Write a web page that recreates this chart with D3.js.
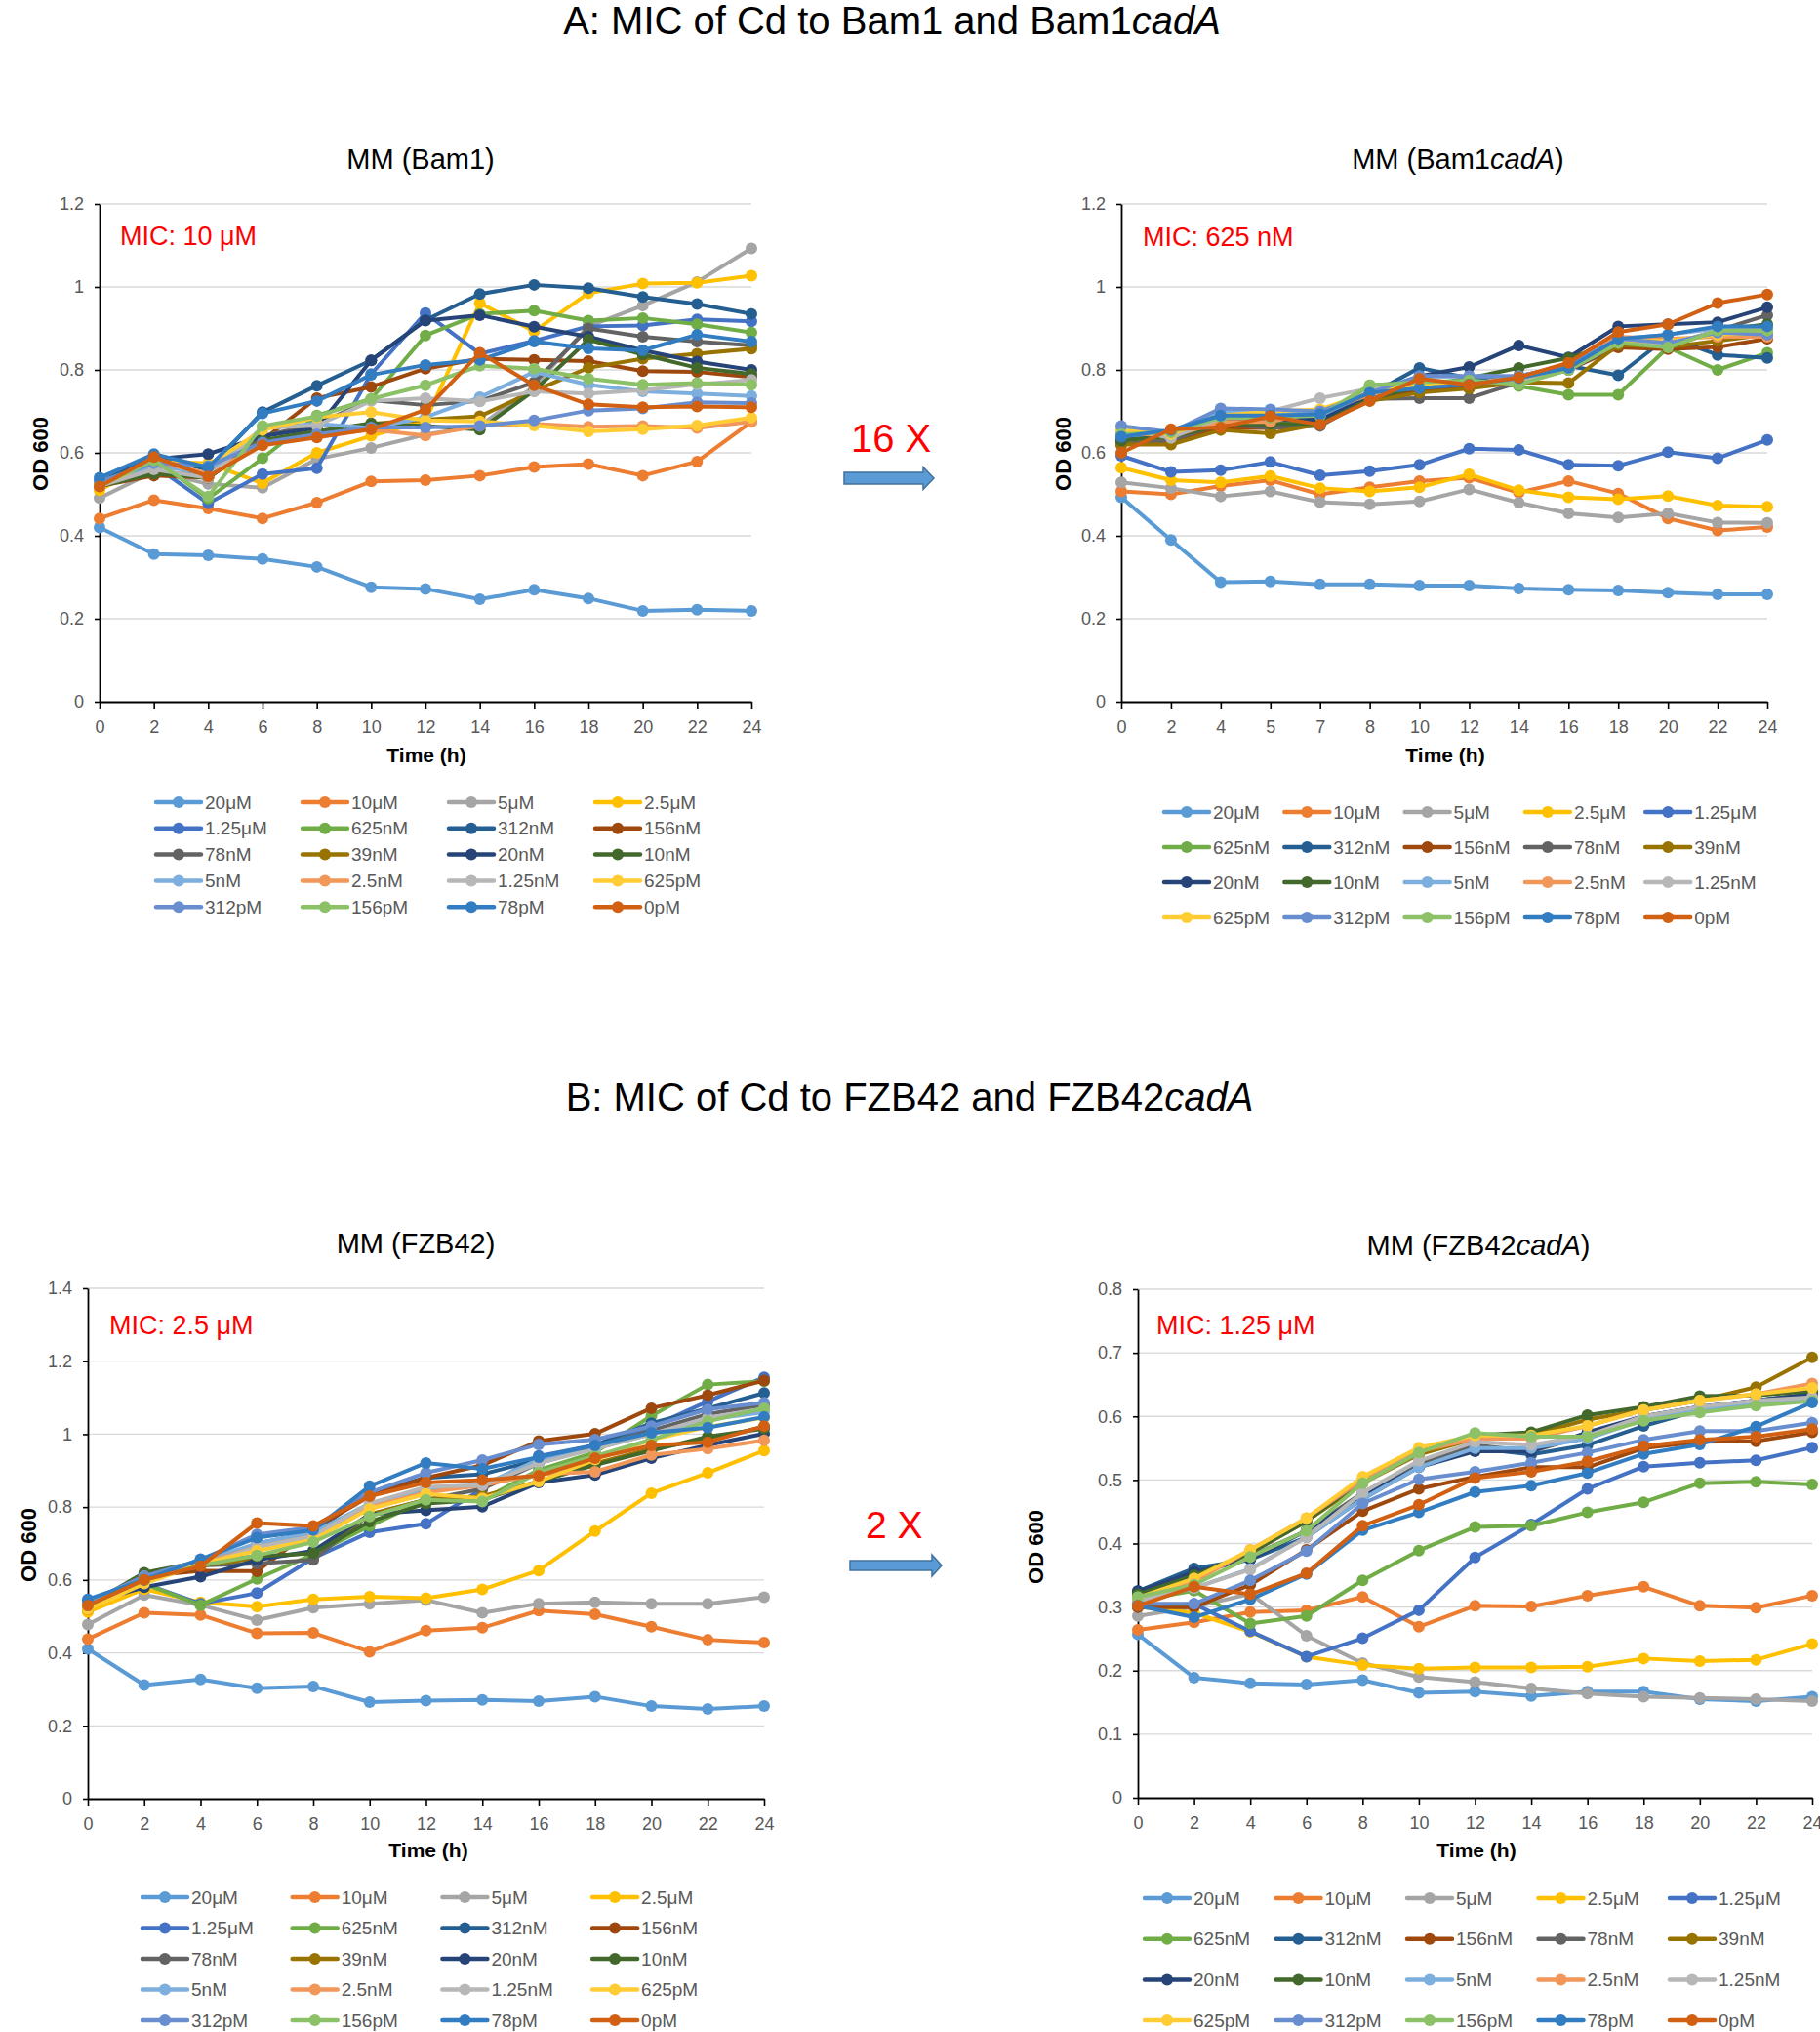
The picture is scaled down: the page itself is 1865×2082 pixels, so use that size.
<!DOCTYPE html>
<html>
<head>
<meta charset="utf-8">
<script src="https://cdn.jsdelivr.net/npm/d3@7"></script>
<style>
  body { margin: 0; background: #fff; }
  svg { display: block; font-family: "Liberation Sans", Arial, sans-serif; }
</style>
</head>
<body>
<div id="chart"></div>
<script>
// series (Cd concentrations) and their Excel colours
var concLabels = ["20μM", "10μM", "5μM", "2.5μM", "1.25μM", "625nM", "312nM", "156nM", "78nM", "39nM",
  "20nM", "10nM", "5nM", "2.5nM", "1.25nM", "625pM", "312pM", "156pM", "78pM", "0pM"];
var concColors = ["#5B9BD5", "#ED7D31", "#A5A5A5", "#FFC000", "#4472C4", "#70AD47", "#255E91", "#9E480E", "#636363", "#997300",
  "#264478", "#43682B", "#7CAFDD", "#F1975A", "#B7B7B7", "#FFCD33", "#698ED0", "#8CC168", "#327DC2", "#D26012"];

// time points (category axes)
var hoursEven = [0, 2, 4, 6, 8, 10, 12, 14, 16, 18, 20, 22, 24];
var hoursBam1cadA = [0, 2, 4, 5, 7, 8, 10, 12, 14, 16, 18, 20, 22, 24];

// OD600, one row per concentration, same order as concLabels
var odBam1 = [
  [0.42, 0.356, 0.353, 0.344, 0.325, 0.276, 0.272, 0.247, 0.27, 0.249, 0.219, 0.222, 0.219],
  [0.442, 0.486, 0.466, 0.442, 0.48, 0.531, 0.534, 0.545, 0.566, 0.573, 0.545, 0.579, 0.675],
  [0.491, 0.555, 0.525, 0.516, 0.585, 0.612, 0.644, 0.665, 0.76, 0.905, 0.955, 1.012, 1.093],
  [0.51, 0.58, 0.575, 0.527, 0.6, 0.641, 0.678, 0.961, 0.893, 0.985, 1.008, 1.01, 1.027],
  [0.53, 0.57, 0.478, 0.549, 0.563, 0.79, 0.937, 0.839, 0.87, 0.905, 0.907, 0.922, 0.917],
  [0.52, 0.585, 0.49, 0.587, 0.69, 0.73, 0.883, 0.935, 0.943, 0.919, 0.925, 0.91, 0.89],
  [0.53, 0.59, 0.56, 0.698, 0.762, 0.823, 0.92, 0.983, 1.005, 0.997, 0.976, 0.959, 0.935],
  [0.52, 0.545, 0.54, 0.63, 0.732, 0.759, 0.803, 0.827, 0.824, 0.821, 0.797, 0.795, 0.783],
  [0.52, 0.55, 0.55, 0.64, 0.67, 0.727, 0.715, 0.725, 0.77, 0.9, 0.88, 0.868, 0.859],
  [0.52, 0.55, 0.54, 0.63, 0.65, 0.67, 0.68, 0.688, 0.749, 0.805, 0.827, 0.839, 0.851],
  [0.52, 0.585, 0.597, 0.64, 0.66, 0.823, 0.919, 0.932, 0.904, 0.88, 0.847, 0.82, 0.8],
  [0.52, 0.55, 0.54, 0.63, 0.652, 0.671, 0.665, 0.656, 0.75, 0.873, 0.837, 0.805, 0.79],
  [0.53, 0.57, 0.55, 0.66, 0.67, 0.66, 0.686, 0.734, 0.795, 0.764, 0.748, 0.743, 0.737],
  [0.52, 0.58, 0.55, 0.62, 0.64, 0.656, 0.642, 0.665, 0.67, 0.663, 0.665, 0.66, 0.675],
  [0.52, 0.56, 0.54, 0.66, 0.666, 0.725, 0.732, 0.724, 0.748, 0.743, 0.751, 0.765, 0.776],
  [0.52, 0.58, 0.57, 0.655, 0.686, 0.698, 0.678, 0.676, 0.666, 0.652, 0.657, 0.666, 0.685],
  [0.53, 0.575, 0.568, 0.625, 0.645, 0.661, 0.661, 0.665, 0.678, 0.702, 0.707, 0.722, 0.72],
  [0.52, 0.582, 0.495, 0.665, 0.688, 0.73, 0.763, 0.81, 0.803, 0.779, 0.764, 0.768, 0.764],
  [0.54, 0.597, 0.565, 0.695, 0.725, 0.788, 0.812, 0.824, 0.868, 0.852, 0.847, 0.885, 0.868],
  [0.519, 0.59, 0.543, 0.618, 0.637, 0.657, 0.704, 0.841, 0.763, 0.717, 0.71, 0.712, 0.71]
];
var odBam1cadA = [
  [0.493, 0.39, 0.288, 0.29, 0.283, 0.283, 0.28, 0.28, 0.273, 0.27, 0.268, 0.263, 0.259, 0.259],
  [0.507, 0.5, 0.52, 0.534, 0.5, 0.517, 0.532, 0.54, 0.504, 0.532, 0.502, 0.442, 0.413, 0.421],
  [0.529, 0.515, 0.495, 0.507, 0.481, 0.476, 0.483, 0.512, 0.48, 0.454, 0.444, 0.454, 0.432, 0.431],
  [0.564, 0.534, 0.529, 0.544, 0.515, 0.507, 0.517, 0.548, 0.51, 0.493, 0.488, 0.496, 0.473, 0.47],
  [0.593, 0.554, 0.558, 0.578, 0.546, 0.556, 0.571, 0.61, 0.607, 0.571, 0.569, 0.602, 0.587, 0.631],
  [0.63, 0.63, 0.66, 0.67, 0.68, 0.763, 0.77, 0.77, 0.761, 0.74, 0.74, 0.854, 0.8, 0.841],
  [0.63, 0.65, 0.69, 0.69, 0.69, 0.74, 0.805, 0.78, 0.785, 0.81, 0.787, 0.88, 0.836, 0.829],
  [0.62, 0.63, 0.66, 0.66, 0.67, 0.73, 0.75, 0.76, 0.78, 0.8, 0.854, 0.85, 0.855, 0.875],
  [0.62, 0.63, 0.67, 0.66, 0.665, 0.73, 0.732, 0.732, 0.77, 0.8, 0.86, 0.86, 0.895, 0.932],
  [0.62, 0.62, 0.655, 0.647, 0.67, 0.725, 0.745, 0.755, 0.77, 0.768, 0.86, 0.855, 0.87, 0.885],
  [0.63, 0.65, 0.68, 0.68, 0.68, 0.735, 0.785, 0.807, 0.859, 0.83, 0.905, 0.91, 0.915, 0.951],
  [0.63, 0.64, 0.665, 0.67, 0.67, 0.73, 0.76, 0.78, 0.805, 0.829, 0.865, 0.855, 0.895, 0.91],
  [0.64, 0.65, 0.7, 0.7, 0.69, 0.745, 0.785, 0.785, 0.785, 0.81, 0.875, 0.885, 0.9, 0.895],
  [0.65, 0.64, 0.675, 0.675, 0.7, 0.74, 0.765, 0.765, 0.785, 0.81, 0.88, 0.875, 0.88, 0.88],
  [0.66, 0.636, 0.685, 0.7, 0.732, 0.755, 0.76, 0.77, 0.775, 0.8, 0.865, 0.86, 0.895, 0.9],
  [0.655, 0.645, 0.69, 0.7, 0.705, 0.745, 0.765, 0.765, 0.78, 0.805, 0.87, 0.87, 0.885, 0.89],
  [0.665, 0.65, 0.707, 0.705, 0.7, 0.745, 0.785, 0.785, 0.785, 0.81, 0.875, 0.865, 0.89, 0.885],
  [0.645, 0.65, 0.685, 0.685, 0.69, 0.763, 0.77, 0.775, 0.765, 0.8, 0.865, 0.854, 0.895, 0.895],
  [0.639, 0.655, 0.69, 0.69, 0.693, 0.745, 0.756, 0.765, 0.78, 0.805, 0.875, 0.885, 0.905, 0.905],
  [0.6, 0.657, 0.661, 0.688, 0.668, 0.725, 0.779, 0.764, 0.782, 0.817, 0.891, 0.91, 0.961, 0.982]
];
var odFZB42 = [
  [0.411, 0.312, 0.327, 0.303, 0.308, 0.265, 0.269, 0.271, 0.268, 0.28, 0.254, 0.246, 0.254],
  [0.438, 0.51, 0.504, 0.454, 0.455, 0.403, 0.461, 0.469, 0.516, 0.506, 0.472, 0.436, 0.428],
  [0.478, 0.559, 0.531, 0.49, 0.524, 0.535, 0.545, 0.51, 0.535, 0.539, 0.535, 0.535, 0.553],
  [0.512, 0.575, 0.539, 0.527, 0.547, 0.554, 0.55, 0.574, 0.626, 0.734, 0.838, 0.894, 0.955],
  [0.54, 0.59, 0.535, 0.564, 0.66, 0.731, 0.754, 0.85, 0.94, 0.97, 1.02, 1.09, 1.156],
  [0.53, 0.59, 0.531, 0.603, 0.67, 0.748, 0.82, 0.82, 0.902, 0.95, 1.05, 1.136, 1.145],
  [0.54, 0.6, 0.64, 0.7, 0.73, 0.84, 0.88, 0.89, 0.93, 0.97, 1.03, 1.07, 1.113],
  [0.52, 0.61, 0.625, 0.624, 0.74, 0.83, 0.88, 0.915, 0.981, 1.001, 1.071, 1.107, 1.147],
  [0.53, 0.61, 0.64, 0.645, 0.655, 0.78, 0.82, 0.85, 0.92, 0.965, 1.01, 1.055, 1.08],
  [0.53, 0.61, 0.64, 0.66, 0.675, 0.78, 0.82, 0.83, 0.87, 0.92, 0.96, 0.985, 1.02],
  [0.535, 0.58, 0.609, 0.655, 0.68, 0.78, 0.791, 0.801, 0.867, 0.888, 0.934, 0.97, 1.001],
  [0.53, 0.62, 0.65, 0.665, 0.673, 0.76, 0.81, 0.82, 0.87, 0.915, 0.955, 0.993, 1.015],
  [0.54, 0.6, 0.65, 0.7, 0.73, 0.81, 0.85, 0.86, 0.93, 0.96, 1.0, 1.04, 1.06],
  [0.53, 0.6, 0.645, 0.69, 0.72, 0.8, 0.84, 0.86, 0.89, 0.897, 0.943, 0.96, 0.983],
  [0.53, 0.61, 0.64, 0.69, 0.72, 0.81, 0.855, 0.86, 0.92, 0.96, 1.0, 1.045, 1.07],
  [0.52, 0.59, 0.645, 0.68, 0.71, 0.795, 0.836, 0.824, 0.87, 0.93, 0.985, 1.02, 1.045],
  [0.54, 0.61, 0.655, 0.725, 0.745, 0.84, 0.894, 0.929, 0.972, 0.985, 1.022, 1.068, 1.086],
  [0.53, 0.6, 0.64, 0.667, 0.704, 0.774, 0.82, 0.815, 0.895, 0.94, 0.985, 1.035, 1.071],
  [0.547, 0.6, 0.657, 0.716, 0.737, 0.857, 0.921, 0.905, 0.937, 0.969, 1.004, 1.018, 1.047],
  [0.53, 0.6, 0.638, 0.756, 0.748, 0.83, 0.867, 0.874, 0.886, 0.934, 0.969, 0.978, 1.022]
];
var odFZB42cadA = [
  [0.257, 0.189, 0.18, 0.178, 0.185, 0.165, 0.167, 0.16, 0.167, 0.167, 0.155, 0.152, 0.159],
  [0.264, 0.276, 0.292, 0.295, 0.316, 0.269, 0.302, 0.301, 0.318, 0.332, 0.302, 0.299, 0.318],
  [0.286, 0.3, 0.321, 0.255, 0.212, 0.19, 0.182, 0.172, 0.164, 0.159, 0.157, 0.155, 0.152],
  [0.3, 0.291, 0.261, 0.222, 0.209, 0.203, 0.205, 0.205, 0.206, 0.219, 0.215, 0.217, 0.242],
  [0.3, 0.305, 0.262, 0.222, 0.251, 0.295, 0.378, 0.43, 0.486, 0.521, 0.527, 0.531, 0.551],
  [0.31, 0.326, 0.274, 0.286, 0.342, 0.389, 0.426, 0.428, 0.449, 0.465, 0.495, 0.497, 0.493],
  [0.325, 0.361, 0.375, 0.41, 0.47, 0.52, 0.55, 0.54, 0.555, 0.585, 0.61, 0.625, 0.635],
  [0.3, 0.3, 0.335, 0.39, 0.451, 0.486, 0.505, 0.52, 0.52, 0.55, 0.56, 0.561, 0.575],
  [0.32, 0.35, 0.38, 0.42, 0.48, 0.525, 0.555, 0.545, 0.57, 0.6, 0.615, 0.625, 0.635],
  [0.32, 0.35, 0.385, 0.435, 0.495, 0.54, 0.565, 0.57, 0.595, 0.61, 0.625, 0.646, 0.693],
  [0.325, 0.355, 0.375, 0.42, 0.475, 0.52, 0.545, 0.545, 0.575, 0.6, 0.615, 0.625, 0.635],
  [0.32, 0.35, 0.385, 0.435, 0.5, 0.545, 0.57, 0.575, 0.602, 0.615, 0.632, 0.633, 0.64],
  [0.31, 0.33, 0.36, 0.41, 0.47, 0.52, 0.55, 0.55, 0.565, 0.595, 0.61, 0.62, 0.63],
  [0.31, 0.34, 0.39, 0.44, 0.5, 0.545, 0.565, 0.565, 0.585, 0.61, 0.625, 0.635, 0.652],
  [0.31, 0.33, 0.359, 0.41, 0.48, 0.53, 0.56, 0.555, 0.57, 0.6, 0.615, 0.625, 0.63],
  [0.315, 0.345, 0.39, 0.44, 0.505, 0.551, 0.57, 0.57, 0.585, 0.61, 0.625, 0.635, 0.645],
  [0.305, 0.305, 0.342, 0.388, 0.463, 0.501, 0.513, 0.527, 0.543, 0.563, 0.577, 0.577, 0.59],
  [0.316, 0.335, 0.379, 0.42, 0.495, 0.543, 0.574, 0.568, 0.568, 0.593, 0.606, 0.617, 0.624],
  [0.302, 0.284, 0.312, 0.352, 0.421, 0.449, 0.481, 0.491, 0.511, 0.541, 0.556, 0.584, 0.622],
  [0.302, 0.332, 0.32, 0.353, 0.428, 0.461, 0.503, 0.513, 0.529, 0.553, 0.563, 0.568, 0.58]
];

(function() {
  var width = 1865,
    height = 2082;

  var svg = d3.select("#chart")
    .append("svg")
    .attr("width", width)
    .attr("height", height)

  svg.append("rect").attr("width", width).attr("height", height).attr("fill", "#fff")

  // section headings, with the italic gene name
  function heading(x, y, size, parts, color) {
    var t = svg.append("text")
      .attr("x", x).attr("y", y)
      .attr("text-anchor", "middle")
      .attr("font-size", size)
      .attr("fill", color || "#000")
    parts.forEach(function(p) {
      t.append("tspan").text(p[0]).attr("font-style", p[1] ? "italic" : "normal")
    })
  }

  heading(914, 35, 40, [["A: MIC of Cd to Bam1 and Bam1", 0], ["cadA", 1]])
  heading(932, 1138, 40, [["B: MIC of Cd to FZB42 and FZB42", 0], ["cadA", 1]])

  var panels = [
    { values: odBam1, hours: hoursEven, title: [["MM (Bam1)", 0]], tx: 431, ty: 173,
      mic: "MIC: 10 μM", micX: 123, micY: 251,
      x0: 102, x1: 770, y0: 719, yTop: 209, yMax: 1.2, yStep: 0.2,
      odX: 41, odY: 465, timeX: 437, timeY: 781,
      legend: { cols: 4, lx: 160, dx: 150, ly: 822, dy: 26.8 } },
    { values: odBam1cadA, hours: hoursBam1cadA, title: [["MM (Bam1", 0], ["cadA", 1], [")", 0]], tx: 1494, ty: 173,
      mic: "MIC: 625 nM", micX: 1171, micY: 252,
      x0: 1149, x1: 1811, y0: 719, yTop: 209, yMax: 1.2, yStep: 0.2,
      odX: 1089, odY: 465, timeX: 1481, timeY: 781,
      legend: { cols: 5, lx: 1193, dx: 123.3, ly: 832, dy: 36 } },
    { values: odFZB42, hours: hoursEven, title: [["MM (FZB42)", 0]], tx: 426, ty: 1284,
      mic: "MIC: 2.5 μM", micX: 112, micY: 1367,
      x0: 90, x1: 783, y0: 1843, yTop: 1320, yMax: 1.4, yStep: 0.2,
      odX: 29, odY: 1583, timeX: 439, timeY: 1903,
      legend: { cols: 4, lx: 146, dx: 153.7, ly: 1944, dy: 31.5 } },
    { values: odFZB42cadA, hours: hoursEven, title: [["MM (FZB42", 0], ["cadA", 1], [")", 0]], tx: 1515, ty: 1286,
      mic: "MIC: 1.25 μM", micX: 1185, micY: 1367,
      x0: 1166, x1: 1857, y0: 1842, yTop: 1321, yMax: 0.8, yStep: 0.1,
      odX: 1061, odY: 1585, timeX: 1513, timeY: 1903,
      legend: { cols: 5, lx: 1173, dx: 134.5, ly: 1945, dy: 41.7 } }
  ]

  panels.forEach(drawPanel)

  function drawPanel(p) {
    var g = svg.append("g")

    var x = d3.scalePoint()
      .domain(p.hours.map(String))
      .range([p.x0, p.x1])

    var y = d3.scaleLinear()
      .domain([0, p.yMax])
      .range([p.y0, p.yTop])

    var n = Math.round(p.yMax / p.yStep)
    var ticks = d3.range(0, n + 1).map(function(i) { return +(i * p.yStep).toFixed(2) })

    // gridlines
    g.selectAll(".grid")
      .data(ticks.slice(1))
      .enter().append("line")
      .attr("class", "grid")
      .attr("x1", p.x0).attr("x2", p.x1)
      .attr("y1", function(d) { return y(d) })
      .attr("y2", function(d) { return y(d) })
      .attr("stroke", "#D9D9D9")
      .attr("stroke-width", 1.3)

    var yAxis = g.append("g")
      .attr("transform", "translate(" + p.x0 + ",0)")
      .call(d3.axisLeft(y).tickValues(ticks).tickSize(5).tickSizeOuter(0).tickPadding(11)
        .tickFormat(function(d) { return String(d) }))

    var xAxis = g.append("g")
      .attr("transform", "translate(0," + p.y0 + ")")
      .call(d3.axisBottom(x).tickSize(7).tickSizeOuter(0).tickPadding(12))

    ;[xAxis, yAxis].forEach(function(a) {
      a.select(".domain").attr("stroke", "#000").attr("stroke-width", 1.8)
      a.selectAll(".tick line").attr("stroke", "#000").attr("stroke-width", 1.6)
      a.selectAll(".tick text")
        .attr("fill", "#595959")
        .attr("font-size", 18)
        .attr("font-family", "'Liberation Sans', Arial, sans-serif")
    })

    // series lines and markers, 20µM first, 0pM drawn on top
    var line = d3.line()
      .x(function(d, i) { return x(String(p.hours[i])) })
      .y(function(d) { return y(d) })

    p.values.forEach(function(vals, k) {
      var s = g.append("g").attr("class", "series")
      s.append("path")
        .attr("d", line(vals))
        .attr("fill", "none")
        .attr("stroke", concColors[k])
        .attr("stroke-width", 4)
        .attr("stroke-linejoin", "round")
      s.selectAll("circle")
        .data(vals)
        .enter().append("circle")
        .attr("cx", function(d, i) { return x(String(p.hours[i])) })
        .attr("cy", function(d) { return y(d) })
        .attr("r", 6)
        .attr("fill", concColors[k])
    })

    // chart title
    var t = g.append("text")
      .attr("x", p.tx).attr("y", p.ty)
      .attr("text-anchor", "middle")
      .attr("font-size", 29)
      .attr("fill", "#000")
    p.title.forEach(function(part) {
      t.append("tspan").text(part[0]).attr("font-style", part[1] ? "italic" : "normal")
    })

    g.append("text")
      .attr("x", p.micX).attr("y", p.micY)
      .attr("font-size", 27)
      .attr("fill", "#FF0000")
      .text(p.mic)

    g.append("text")
      .attr("transform", "translate(" + p.odX + "," + p.odY + ") rotate(-90)")
      .attr("text-anchor", "middle")
      .attr("dy", "0.35em")
      .attr("font-size", 22)
      .attr("font-weight", "bold")
      .text("OD 600")

    g.append("text")
      .attr("x", p.timeX).attr("y", p.timeY)
      .attr("text-anchor", "middle")
      .attr("font-size", 21)
      .attr("font-weight", "bold")
      .text("Time (h)")

    // legend grid
    var L = p.legend
    var items = g.selectAll(".legend-item")
      .data(concLabels)
      .enter().append("g")
      .attr("class", "legend-item")
      .attr("transform", function(d, i) {
        return "translate(" + (L.lx + (i % L.cols) * L.dx) + "," + (L.ly + Math.floor(i / L.cols) * L.dy) + ")"
      })

    items.append("line")
      .attr("x1", 0).attr("x2", 46)
      .attr("stroke", function(d, i) { return concColors[i] })
      .attr("stroke-width", 4.5)
      .attr("stroke-linecap", "round")
    items.append("circle")
      .attr("cx", 23)
      .attr("r", 6)
      .attr("fill", function(d, i) { return concColors[i] })
    items.append("text")
      .attr("x", 50)
      .attr("dy", "0.35em")
      .attr("font-size", 19)
      .attr("fill", "#595959")
      .text(function(d) { return d })
  }

  // fold-change arrows between the panels
  function arrow(xs, xe, yc, shaftH, headH, headW) {
    var pts = [
      [xs, yc - shaftH / 2], [xe - headW, yc - shaftH / 2], [xe - headW, yc - headH / 2], [xe, yc],
      [xe - headW, yc + headH / 2], [xe - headW, yc + shaftH / 2], [xs, yc + shaftH / 2]
    ]
    svg.append("path")
      .attr("d", "M" + pts.join("L") + "Z")
      .attr("fill", "#5B9BD5")
      .attr("stroke", "#41719C")
      .attr("stroke-width", 1.5)
  }

  svg.append("text").attr("x", 872).attr("y", 463).attr("font-size", 40).attr("fill", "#FF0000").text("16 X")
  arrow(865, 957, 490, 12, 23, 11)

  svg.append("text").attr("x", 887).attr("y", 1576).attr("font-size", 39).attr("fill", "#FF0000").text("2 X")
  arrow(871, 965, 1604, 10, 22, 10)
})();
</script>
</body>
</html>
